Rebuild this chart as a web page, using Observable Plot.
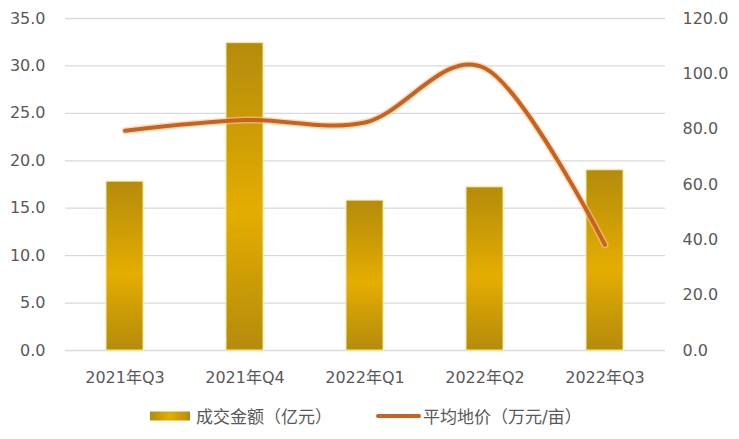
<!DOCTYPE html>
<html>
<head>
<meta charset="utf-8">
<script src="https://cdn.jsdelivr.net/npm/d3@7"></script>
<script src="https://cdn.jsdelivr.net/npm/@observablehq/plot@0.6"></script>
<style>
  html, body { margin: 0; padding: 0; background: #fff; }
  #wrap { position: relative; width: 739px; height: 439px; font-family: "DejaVu Sans", "Noto Sans CJK SC", sans-serif; }
  #legend { position: absolute; left: 0; top: 395px; width: 739px; height: 44px; }
  .lg-item { position: absolute; top: 8px; display: flex; align-items: center; color: #595959; font-size: 17px; font-family: "DejaVu Sans", "Noto Sans CJK SC", sans-serif; }
</style>
</head>
<body>
<div id="wrap"></div>
<script>
const quarters = ["2021年Q3", "2021年Q4", "2022年Q1", "2022年Q2", "2022年Q3"];
const dealAmount = [17.8, 32.4, 15.8, 17.2, 19.0];      // 成交金额（亿元）
const avgLandPrice = [79.4, 83.3, 82.4, 102.0, 38.2];   // 平均地价（万元/亩）
const leftTicks = [0, 5, 10, 15, 20, 25, 30, 35];
const rightTicks = [0, 20, 40, 60, 80, 100, 120];
const seriesNames = ["成交金额（亿元）", "平均地价（万元/亩）"];

const LEFT_MAX = 35, RIGHT_MAX = 120;
const toLeft = v => v * LEFT_MAX / RIGHT_MAX;

const bars = quarters.map((q, i) => ({q, v: dealAmount[i]}));
const pts = quarters.map((q, i) => ({q, v: toLeft(avgLandPrice[i])}));

const textColor = "#595959";

const chart = Plot.plot({
  width: 739,
  height: 395,
  marginTop: 18,
  marginBottom: 45,
  marginLeft: 65,
  marginRight: 74,
  style: {fontFamily: '"DejaVu Sans", "Noto Sans CJK SC", sans-serif', fontSize: "16px", color: textColor, background: "#fff"},
  x: {type: "band", domain: quarters, paddingInner: 0.69, paddingOuter: 0.345, label: null},
  y: {domain: [0, LEFT_MAX], label: null},
  marks: [
    Plot.gridY(leftTicks, {stroke: "#d9d9d9", strokeOpacity: 1, strokeWidth: 1.3}),
    Plot.barY(bars, {x: "q", y: "v", fill: "#C9A000", stroke: "#FFE98A", strokeWidth: 1}),
    Plot.line(pts, {x: "q", y: "v", curve: "cardinal", stroke: "#F6C89A", strokeWidth: 7, strokeOpacity: 0.6}),
    Plot.line(pts, {x: "q", y: "v", curve: "cardinal", stroke: "#C8631F", strokeWidth: 4}),
    Plot.axisX({tickSize: 0, tickPadding: 21, fill: textColor, fontSize: 16}),
    Plot.axisY(leftTicks, {anchor: "left", tickSize: 0, tickPadding: 20, tickFormat: d => d.toFixed(1), fill: textColor, fontSize: 16}),
    Plot.axisY(rightTicks.map(toLeft), {anchor: "right", tickSize: 0, tickPadding: 17, tickFormat: d => (d * RIGHT_MAX / LEFT_MAX).toFixed(1), fill: textColor, fontSize: 16})
  ]
});

// gradient for bars
const svg = d3.select(chart);
const defs = svg.insert("defs", ":first-child");
const g = defs.append("linearGradient").attr("id", "barGrad").attr("x1", 0).attr("y1", 0).attr("x2", 0).attr("y2", 1);
g.append("stop").attr("offset", "0%").attr("stop-color", "#B48B0C");
g.append("stop").attr("offset", "55%").attr("stop-color", "#E4AD00");
g.append("stop").attr("offset", "100%").attr("stop-color", "#B48B0C");
svg.selectAll('g[aria-label="bar"] rect').attr("fill", "url(#barGrad)");

const wrap = document.getElementById("wrap");
wrap.appendChild(chart);

// legend
const legend = document.createElement("div");
legend.id = "legend";
legend.innerHTML = `
  <div class="lg-item" style="left:150px">
    <svg width="42" height="12" style="margin-right:4px">
      <defs><linearGradient id="lgBar" x1="0" y1="0" x2="1" y2="0">
        <stop offset="0%" stop-color="#B48B0C"/><stop offset="50%" stop-color="#E4AD00"/><stop offset="100%" stop-color="#B48B0C"/>
      </linearGradient></defs>
      <rect x="0" y="1.5" width="40" height="9" fill="url(#lgBar)"/>
    </svg>
    <span>${seriesNames[0]}</span>
  </div>
  <div class="lg-item" style="left:376px">
    <svg width="46" height="12" style="margin-right:1px">
      <line x1="2" y1="6" x2="43" y2="6" stroke="#C8631F" stroke-width="4" stroke-linecap="round"/>
    </svg>
    <span>${seriesNames[1]}</span>
  </div>`;
wrap.appendChild(legend);
</script>
</body>
</html>
